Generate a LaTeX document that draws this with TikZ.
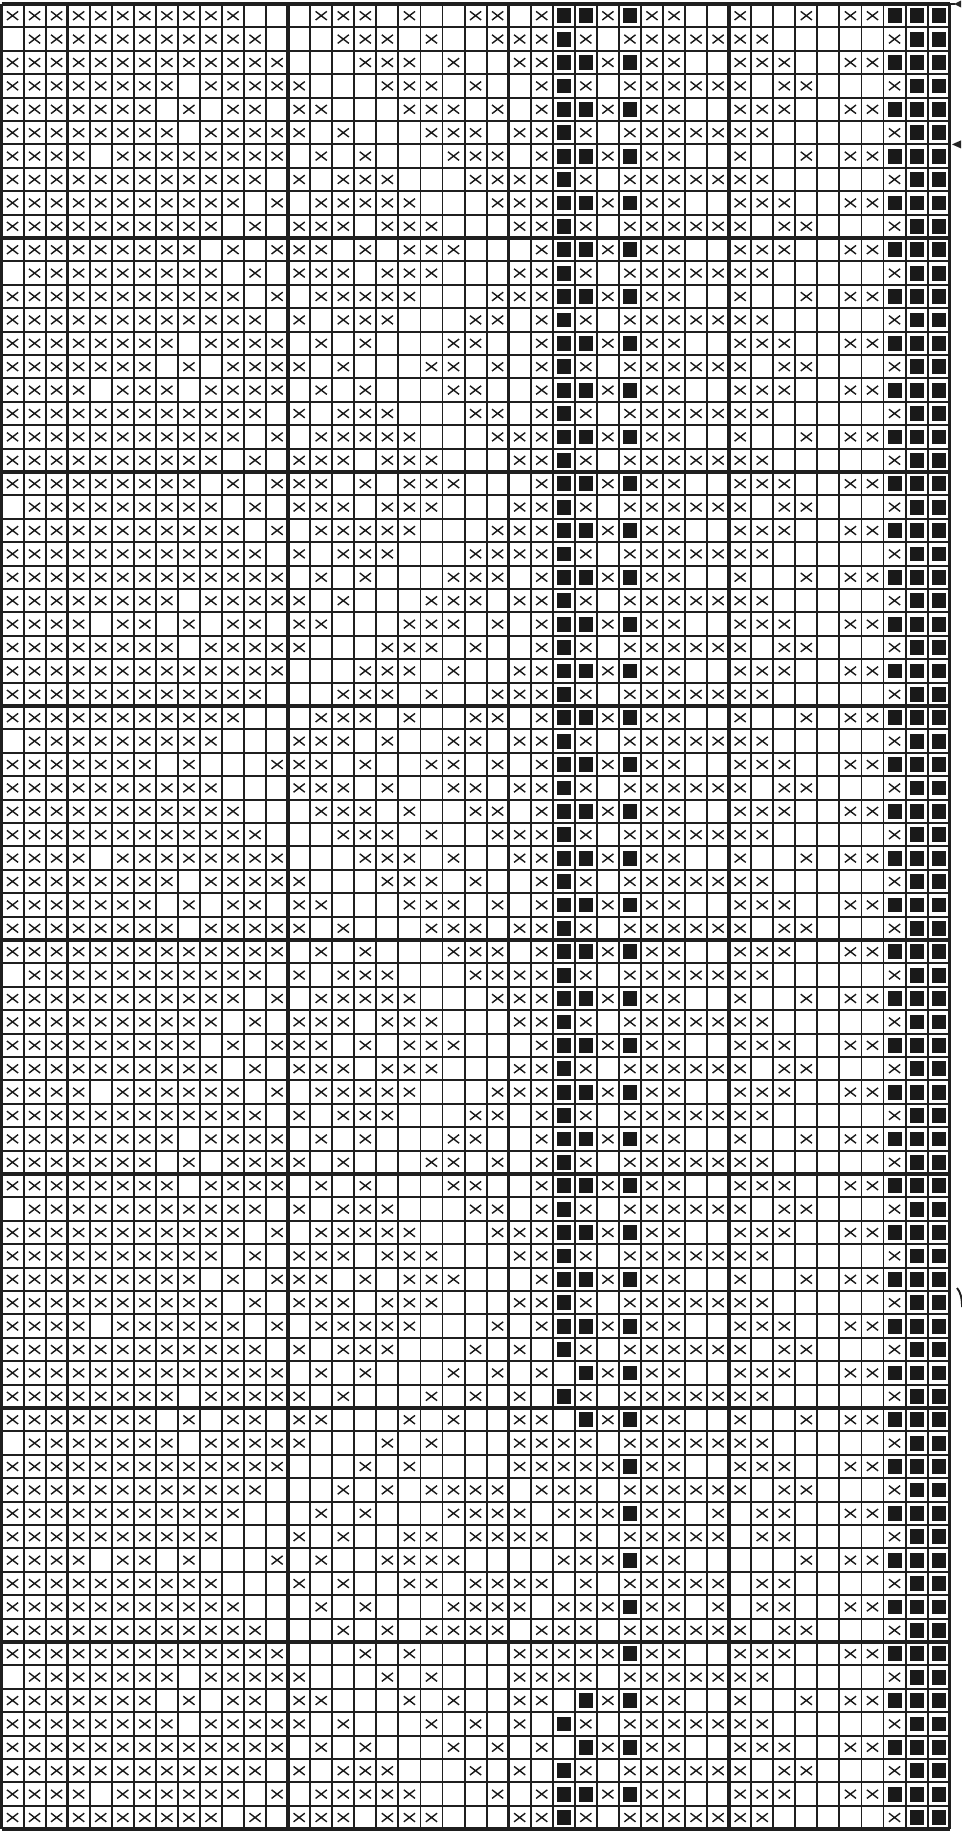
\documentclass[tikz,border=0pt]{standalone}
\begin{document}
\newcount\cellcol
\def\cellr{0}
\newcommand\cellrow[2]{\global\cellcol=0 \def\cellr{#1}\cellparse#2\relax}
\def\cellparse#1{\ifx#1\relax\else\celldraw#1\global\advance\cellcol by 1 \expandafter\cellparse\fi}
\def\celldraw#1{%
  \if x#1\pic at ({1.5+22.05*(\the\cellcol+0.5)},{4+23.4*(\cellr+0.5)}) {xmark};\fi
  \if B#1\pic at ({1.5+22.05*(\the\cellcol+0.5)},{4+23.4*(\cellr+0.5)}) {bmark};\fi}
\begin{tikzpicture}[x=0.5pt,y=-0.5pt,
  gridthin/.style={draw=black!88,line width=0.95pt},
  gridheavy/.style={draw=black!88,line width=1.8pt},
  xline/.style={draw=black!90,line width=0.7pt},
  xmark/.pic={\draw[xline] (-5.6,-4.3) -- (5.6,4.3) (-5.6,4.3) -- (5.6,-4.3);},
  bmark/.pic={\fill[black!90] (-7,-7.4) rectangle (7,7.4);}]
\useasboundingbox (0,0) rectangle (962,1831);
\fill[white] (0,0) rectangle (962,1831);
\foreach \i in {0,...,43} \draw[gridthin] ({1.5+22.05*\i},4) -- ({1.5+22.05*\i},1829.2);
\foreach \j in {0,...,78} \draw[gridthin] (1.5,{4+23.4*\j}) -- (949.65,{4+23.4*\j});
\foreach \i in {0,3,13,23,33,43} \draw[gridheavy] ({1.5+22.05*\i},4) -- ({1.5+22.05*\i},1829.2);
\foreach \j in {0,10,20,30,40,50,60,70,78} \draw[gridheavy] (1.5,{4+23.4*\j}) -- (949.65,{4+23.4*\j});
% marks at the right margin
\draw[gridthin] (949.65,4) -- (955,4);
\fill[black!85] (954,4) -- (961,0.5) -- (961,7.5) -- cycle;
\fill[black!85] (952,144.4) -- (961,140.4) -- (961,148.4) -- cycle;
\draw[gridthin] (957,1288) .. controls (960.5,1292) and (962,1298) .. (962,1307);
% cells
\cellrow{0}{xxx xxxxxxxx.. .xxx.x..xx .xBBxBxx.. x..x.xxBBB}
\cellrow{1}{.xx xxxxxxxxx. ..xxx.x..x xxBx.xxxxx xx.....xBB}
\cellrow{2}{xxx xxxxxxxxxx ...xxx.x.. xxBBxBxx.. xxx..xxBBB}
\cellrow{3}{xxx xxxxx.xxxx x...xxx.x. .xBx.xxxxx x.xx...xBB}
\cellrow{4}{xxx xxxx.x.xx. xx...xxx.x .xBBxBxx.. xxx..xxBBB}
\cellrow{5}{xxx xxxxx.xxxx x.x...xxx. xxBx.xxxxx xx.....xBB}
\cellrow{6}{xxx x.xxxxxxxx .x.x...xxx .xBBxBxx.. x..x.xxBBB}
\cellrow{7}{xxx xxxxxxxxx. x.xxx...xx xxBx.xxxxx xx.....xBB}
\cellrow{8}{xxx xxxxxxxx.x .xxxxx...x xxBBxBxx.. xxx..xxBBB}
\cellrow{9}{xxx xxxxxxx.x. xxx.xxx... xxBx.xxxxx x.xx...xBB}
\cellrow{10}{xxx xxxxxx.x.x xx.x.xxx.. .xBBxBxx.. xxx..xxBBB}
\cellrow{11}{.xx xxxxxxx.x. xxx.xxx... xxBx.xxxxx xx.....xBB}
\cellrow{12}{xxx xxxxxxxx.x .xxxxx...x xxBBxBxx.. x..x.xxBBB}
\cellrow{13}{xxx xxxxxxxxx. x.xxx...xx .xBx.xxxxx xx.....xBB}
\cellrow{14}{xxx xxxxx.xxxx .x.x...xx. .xBBxBxx.. xxx..xxBBB}
\cellrow{15}{xxx xxxx.x.xxx x.x...xx.x .xBx.xxxxx x.xx...xBB}
\cellrow{16}{xxx x.xxx.xxxx .x.x...xx. .xBBxBxx.. xxx..xxBBB}
\cellrow{17}{xxx xxxxxxxxx. x.xxx...xx .xBx.xxxxx xx.....xBB}
\cellrow{18}{xxx xxxxxxxx.x .xxxxx...x xxBBxBxx.. x..x.xxBBB}
\cellrow{19}{xxx xxxxxxx.x. xxx.xxx... xxBx.xxxxx xx.....xBB}
\cellrow{20}{xxx xxxxxx.x.x xx.x.xxx.. .xBBxBxx.. xxx..xxBBB}
\cellrow{21}{.xx xxxxxxx.x. xxx.xxx... xxBx.xxxxx x.xx...xBB}
\cellrow{22}{xxx xxxxxxxx.x .xxxxx...x xxBBxBxx.. xxx..xxBBB}
\cellrow{23}{xxx xxxxxxxxx. x.xxx...xx xxBx.xxxxx xx.....xBB}
\cellrow{24}{xxx xxxxxxxxxx .x.x...xxx .xBBxBxx.. x..x.xxBBB}
\cellrow{25}{xxx xxxxx.xxxx x.x...xxx. xxBx.xxxxx xx.....xBB}
\cellrow{26}{xxx x.xx.x.xx. xx...xxx.x .xBBxBxx.. xxx..xxBBB}
\cellrow{27}{xxx xxxxx.xxxx x...xxx.x. .xBx.xxxxx x.xx...xBB}
\cellrow{28}{xxx xxxxxxxxxx ...xxx.x.. xxBBxBxx.. xxx..xxBBB}
\cellrow{29}{xxx xxxxxxxxx. ..xxx.x..x xxBx.xxxxx xx.....xBB}
\cellrow{30}{xxx xxxxxxxx.. .xxx.x..xx .xBBxBxx.. x..x.xxBBB}
\cellrow{31}{.xx xxxxxxx... xxx.x..xx. xxBx.xxxxx xx.....xBB}
\cellrow{32}{xxx xxxx.x...x xx.x..xx.x .xBBxBxx.. xxx..xxBBB}
\cellrow{33}{xxx xxxxxxx... xxx.x..xx. xxBx.xxxxx x.xx...xBB}
\cellrow{34}{xxx xxxxxxxx.. .xxx.x..xx .xBBxBxx.. xxx..xxBBB}
\cellrow{35}{xxx xxxxxxxxx. ..xxx.x..x xxBx.xxxxx xx.....xBB}
\cellrow{36}{xxx x.xxxxxxxx ...xxx.x.. xxBBxBxx.. x..x.xxBBB}
\cellrow{37}{xxx xxxxx.xxxx x...xxx.x. .xBx.xxxxx xx.....xBB}
\cellrow{38}{xxx xxxx.x.xx. xx...xxx.x .xBBxBxx.. xxx..xxBBB}
\cellrow{39}{xxx xxxxx.xxxx x.x...xxx. xxBx.xxxxx x.xx...xBB}
\cellrow{40}{xxx xxxxxxxxxx .x.x...xxx .xBBxBxx.. xxx..xxBBB}
\cellrow{41}{.xx xxxxxxxxx. x.xxx...xx xxBx.xxxxx xx.....xBB}
\cellrow{42}{xxx xxxxxxxx.x .xxxxx...x xxBBxBxx.. x..x.xxBBB}
\cellrow{43}{xxx xxxxxxx.x. xxx.xxx... xxBx.xxxxx xx.....xBB}
\cellrow{44}{xxx xxxxxx.x.x xx.x.xxx.. .xBBxBxx.. xxx..xxBBB}
\cellrow{45}{xxx xxxxxxx.x. xxx.xxx... xxBx.xxxxx x.xx...xBB}
\cellrow{46}{xxx x.xxxxxx.x .xxxxx...x xxBBxBxx.. xxx..xxBBB}
\cellrow{47}{xxx xxxxxxxxx. x.xxx...xx .xBx.xxxxx xx.....xBB}
\cellrow{48}{xxx xxxxx.xxxx .x.x...xx. .xBBxBxx.. x..x.xxBBB}
\cellrow{49}{xxx xxxx.x.xxx x.x...xx.x .xBx.xxxxx xx.....xBB}
\cellrow{50}{xxx xxxxx.xxxx .x.x...xx. .xBBxBxx.. xxx..xxBBB}
\cellrow{51}{.xx xxxxxxxxx. x.xxx...xx .xBx.xxxxx x.xx...xBB}
\cellrow{52}{xxx xxxxxxxx.x .xxxxx...x xxBBxBxx.. xxx..xxBBB}
\cellrow{53}{xxx xxxxxxx.x. xxx.xxx... xxBx.xxxxx xx.....xBB}
\cellrow{54}{xxx xxxxxx.x.x xx.x.xxx.. .xBBxBxx.. x..x.xxBBB}
\cellrow{55}{xxx xxxxxxx.x. xxx.xxx... xxBx.xxxxx xx.....xBB}
\cellrow{56}{xxx x.xxxxxx.x .xxxxx...x .xBBxBxx.. xxx..xxBBB}
\cellrow{57}{xxx xxxxxxxxx. x.xxx...x. x.Bx.xxxxx x.xx...xBB}
\cellrow{58}{xxx xxxxxxxxxx .x.x...x.x .x.BxBxx.. xxx..xxBBB}
\cellrow{59}{xxx xxxxx.xxxx x.x...x.x. x.Bx.xxxxx xx.....xBB}
\cellrow{60}{xxx xxxx.x.xx. xx...x.x.. xx.BxBxx.. x..x.xxBBB}
\cellrow{61}{.xx xxxxx.xxxx x...x.x... xxxx.xxxxx xx.....xBB}
\cellrow{62}{xxx xxxxxxxxxx ...x.x.... xxxxxBxx.. xxx..xxBBB}
\cellrow{63}{xxx xxxxxxxxx. ..x.x.xxxx .xxx.xxxxx x.xx...xBB}
\cellrow{64}{xxx xxxxxxxx.. .x.x...xxx x.xxxBxx.x .xx..xxBBB}
\cellrow{65}{xxx xxxxxxx... x.x..xx.xx xx.x.xxxxx .xx....xBB}
\cellrow{66}{xxx x.xx.x...x .x..xxxx.. ..xxxBxx.. ...x.xxBBB}
\cellrow{67}{xxx xxxxxxx... x.x..xx.xx xx.x.xxxxx .xx....xBB}
\cellrow{68}{xxx xxxxxxxx.. .x.x...xxx x.xxxBxx.x .xx..xxBBB}
\cellrow{69}{xxx xxxxxxxxx. ..x.x.xxxx .xxx.xxxxx x.xx...xBB}
\cellrow{70}{xxx xxxxxxxxxx ...x.x.... xxxxxBxx.. xxx..xxBBB}
\cellrow{71}{.xx xxxxx.xxxx x...x.x... xxxx.xxxxx xx.....xBB}
\cellrow{72}{xxx xxxx.x.xx. xx...x.x.. xx.BxBxx.. x..x.xxBBB}
\cellrow{73}{xxx xxxxx.xxxx x.x...x.x. x.Bx.xxxxx xx.....xBB}
\cellrow{74}{xxx xxxxxxxxxx .x.x...x.x .x.BxBxx.. xxx..xxBBB}
\cellrow{75}{xxx xxxxxxxxx. x.xxx...x. x.Bx.xxxxx x.xx...xBB}
\cellrow{76}{xxx x.xxxxxx.x .xxxxx...x .xBBxBxx.. xxx..xxBBB}
\cellrow{77}{xxx xxxxxxx.x. xxx.xxx... xxBx.xxxxx xx.....xBB}
\end{tikzpicture}
\end{document}
